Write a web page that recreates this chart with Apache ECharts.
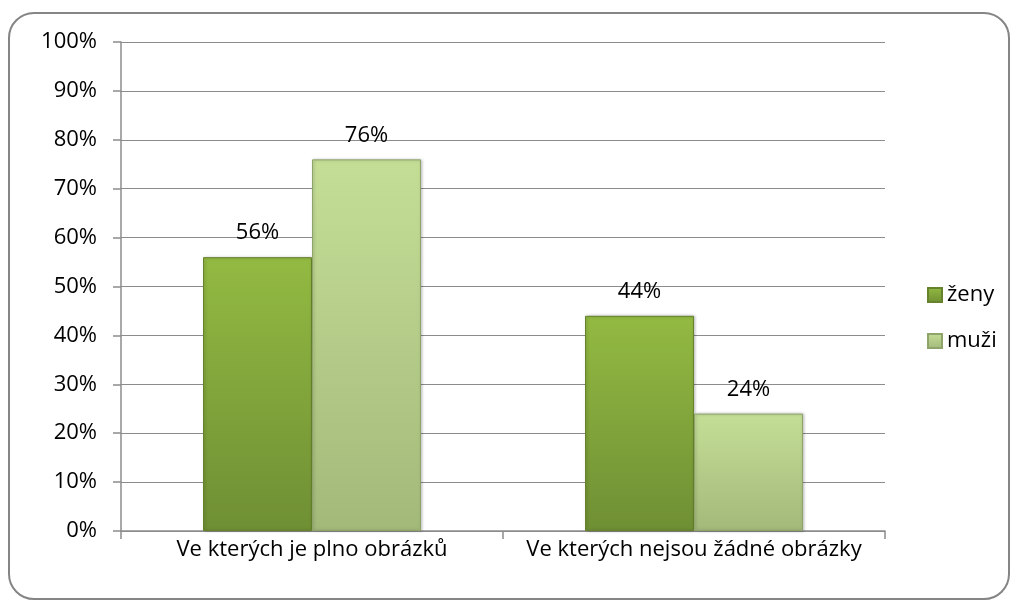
<!DOCTYPE html>
<html>
<head>
<meta charset="utf-8">
<script src="https://cdn.jsdelivr.net/npm/echarts@6/dist/echarts.min.js"></script>
<style>
  html, body { margin: 0; padding: 0; background: #fff; }
  .frame {
    position: absolute; left: 8px; top: 12px; width: 1002px; height: 588px;
    border: 2px solid #858585; border-radius: 26px; box-sizing: border-box;
  }
  #chart { position: absolute; left: 0; top: 0; width: 1017px; height: 610px; }
</style>
</head>
<body>
<div class="frame"></div>
<div id="chart"></div>
<script>
const categories = ['Ve kterých je plno obrázků', 'Ve kterých nejsou žádné obrázky']
const zeny = [56, 44]
const muzi = [76, 24]
const yTicks = [0, 10, 20, 30, 40, 50, 60, 70, 80, 90, 100]

const font = '"Open Sans", Lato, sans-serif'
const fs = 22
const chart = echarts.init(document.getElementById('chart'))

const grad = (top, bottom) => new echarts.graphic.LinearGradient(0, 0, 0, 1, [
  { offset: 0, color: top },
  { offset: 1, color: bottom },
])

chart.setOption({
  backgroundColor: 'transparent',
  animation: false,
  grid: { left: 121, right: 132, top: 42, bottom: 79 },
  legend: {
    orient: 'vertical',
    left: 922,
    top: 279,
    itemGap: 24,
    itemWidth: 14,
    itemHeight: 14,
    icon: 'rect',
    textStyle: { fontFamily: font, fontSize: fs, color: '#000' },
    data: ['ženy', 'muži'],
  },
  xAxis: {
    type: 'category',
    data: categories,
    axisLine: { lineStyle: { color: '#8c8c8c', width: 1.5 } },
    axisTick: { show: true, length: 8, lineStyle: { color: '#8c8c8c', width: 1.5 } },
    axisLabel: { fontFamily: font, fontSize: fs, color: '#000', margin: 8, interval: 0 },
  },
  yAxis: {
    type: 'value',
    min: 0,
    max: 100,
    interval: 10,
    axisLine: { show: true, lineStyle: { color: '#8c8c8c', width: 1.5 } },
    axisTick: { show: true, length: 8, lineStyle: { color: '#8c8c8c', width: 1.5 } },
    splitLine: { lineStyle: { color: '#8c8c8c', width: 1.2 } },
    axisLabel: {
      fontFamily: font, fontSize: fs, color: '#000', margin: 24,
      formatter: v => (yTicks.includes(v) ? v + '%' : ''),
    },
  },
  series: [
    {
      name: 'ženy',
      type: 'bar',
      data: zeny,
      barWidth: 109,
      barGap: '0%',
      itemStyle: {
        color: grad('#93ba42', '#6f8f34'),
        borderColor: '#66832c',
        borderWidth: 1,
        shadowColor: 'rgba(0,0,0,0.25)',
        shadowBlur: 3,
        shadowOffsetX: 1,
      },
      label: {
        show: true, position: 'top', distance: 13,
        fontFamily: font, fontSize: fs, color: '#000',
        formatter: p => p.value + '%',
      },
    },
    {
      name: 'muži',
      type: 'bar',
      data: muzi,
      barWidth: 109,
      itemStyle: {
        color: grad('#c4de96', '#a3b97a'),
        borderColor: '#8fa46a',
        borderWidth: 1,
        shadowColor: 'rgba(0,0,0,0.25)',
        shadowBlur: 3,
        shadowOffsetX: 1,
      },
      label: {
        show: true, position: 'top', distance: 13,
        fontFamily: font, fontSize: fs, color: '#000',
        formatter: p => p.value + '%',
      },
    },
  ],
})
</script>
</body>
</html>
